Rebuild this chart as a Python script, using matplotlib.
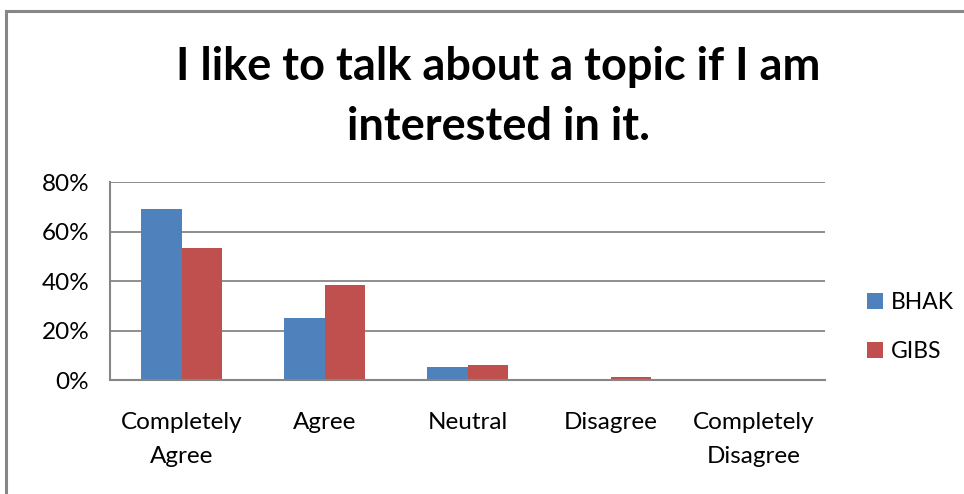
import matplotlib
matplotlib.use("Agg")
import matplotlib.pyplot as plt
import numpy as np
from matplotlib.patches import Rectangle
from matplotlib.ticker import FuncFormatter

categories = ["Completely\nAgree", "Agree", "Neutral", "Disagree", "Completely\nDisagree"]
series_names = ["BHAK", "GIBS"]
bhak = [68.9, 25.2, 5.1, 0.0, 0.0]
gibs = [53.5, 38.2, 6.0, 1.3, 0.0]
colors = ["#4F81BD", "#C0504D"]
title = "I like to talk about a topic if I am\ninterested in it."

W, H = 964, 494
fig = plt.figure(figsize=(W / 100, H / 100), dpi=100)
font = "Lato"

# outer chart border
fig.patches.append(Rectangle((6 / W, -0.1), 1.2, (H - 11) / H + 0.1, transform=fig.transFigure,
                             fill=False, edgecolor="#878787", linewidth=2.2))

ax = fig.add_axes([110 / W, (H - 380) / H, 715 / W, 198 / H])
x = np.arange(len(categories))
bw = 1 / 3.5
ax.bar(x - bw / 2, bhak, width=bw, color=colors[0], label=series_names[0])
ax.bar(x + bw / 2, gibs, width=bw, color=colors[1], label=series_names[1])

ax.set_xlim(-0.5, len(categories) - 0.5)
ax.set_ylim(0, 80)
ax.set_yticks([0, 20, 40, 60, 80])
ax.yaxis.set_major_formatter(FuncFormatter(lambda v, p: f"{v:.0f}%"))
ax.set_xticks(x)
ax.set_xticklabels(categories, fontsize=17.5, family=font, linespacing=1.75)
for lab in ax.get_yticklabels():
    lab.set_fontsize(17.5)
    lab.set_family(font)
ax.tick_params(axis="y", length=0, pad=15)
ax.tick_params(axis="x", length=0, pad=23)
ax.grid(axis="y", color="#868686", linewidth=1.3)
ax.set_axisbelow(True)
for s in ["top", "right"]:
    ax.spines[s].set_visible(False)
for s in ["left", "bottom"]:
    ax.spines[s].set_color("#868686")
    ax.spines[s].set_linewidth(1.5)

fig.text(0.5 * (178 + 818) / W, (H - 97) / H, title, ha="center", va="center",
         fontsize=32.5, fontweight="bold", family=font, linespacing=1.55)

leg = ax.legend(loc="center left", bbox_to_anchor=(846 / W, (H - 327) / H),
                bbox_transform=fig.transFigure, frameon=False,
                prop={"family": font, "size": 16.5}, handlelength=0.7, handleheight=0.7,
                labelspacing=1.2, handletextpad=0.35)

fig.savefig("out.png", dpi=100)
